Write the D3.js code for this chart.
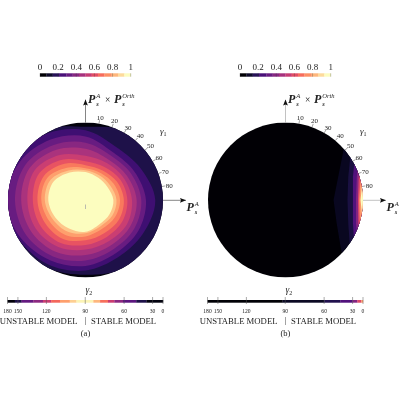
<!DOCTYPE html>
<html><head><meta charset="utf-8">
<script src="https://cdn.jsdelivr.net/npm/d3@7/dist/d3.min.js"></script>
<style>html,body{margin:0;padding:0}svg{display:block;will-change:transform}
text{font-family:"Liberation Serif",serif;fill:#222}</style></head><body>
<script>
// directions of the contour radii (degrees, counter-clockwise from +P_s^A)
const thetas = [0,30,60,90,120,150,180,210,240,270,300,330];
// panel (a): colour level and contour radius (fraction of disk radius) for each band
const levelsA = [.13,.21,.31,.39,.47,.55,.63,.72,.80,.88,1];
const radiiA = [
 [1.06,1.06,1.03,.945,1.05,1.08,1.08,1.08,1.01,.965,1.02,1.06],
 [.90,.82,.79,.90,.99,1.05,1.08,1.0,.96,.91,.85,.86],
 [.78,.73,.71,.82,.90,.98,1.03,.97,.90,.85,.79,.79],
 [.72,.68,.66,.74,.82,.90,.91,.89,.84,.78,.73,.73],
 [.66,.62,.60,.66,.75,.83,.83,.81,.77,.71,.67,.67],
 [.60,.57,.55,.57,.67,.76,.75,.74,.70,.64,.61,.62],
 [.54,.52,.49,.50,.60,.69,.68,.67,.64,.58,.55,.55],
 [.495,.47,.44,.45,.54,.62,.62,.60,.58,.52,.49,.50],
 [.445,.42,.40,.41,.48,.57,.57,.54,.52,.47,.43,.44],
 [.40,.37,.365,.385,.44,.52,.525,.49,.47,.43,.39,.40],
 [.36,.33,.33,.36,.41,.475,.48,.45,.425,.41,.36,.36]
];
// panel (b): band edges, horizontal position per height on the disk
const heightsB = [1.05,.6,.3,0,-.3,-.6,-1.05];
const levelsB = [.06,.12,.25,.38,.6,.78,1];
const edgesB = [
 [.80,.74,.68,.62,.66,.71,.80],
 [.90,.84,.81,.80,.81,.83,.90],
 [.95,.90,.87,.87,.87,.89,.95],
 [1.0,.95,.92,.91,.91,.94,1.0],
 [1.1,1.0,.945,.935,.94,1.0,1.1],
 [1.1,1.05,.97,.95,.96,1.05,1.1],
 [1.1,1.1,1.0,.968,1.0,1.1,1.1]
];
// gamma_1 ticks
const gamma1Ticks = [10,20,30,40,50,60,70,80];
// gamma_2 axis
const gamma2Ticks = [180,150,120,90,60,30,0];
const barEdgesA = [180,155,145,132,123,116,109,101.5,96.5,84,79,73,68,61,49,38,0];
const barValuesA = [.02,.13,.3,.4,.55,.68,.8,.9,.98,.85,.7,.55,.4,.28,.13,.03];
const barEdgesB = [180,92,60,45,30,22,12,0];
const barValuesB = [.01,.07,.14,.25,.38,.6,.8];
// colour bar
const cbarLevels = [0,.07,.14,.21,.29,.36,.43,.5,.57,.64,.71,.79,.86,.93];
const cbarTicks = [0,.2,.4,.6,.8,1];
const panelNames = ["(a)","(b)"];

const color = d3.interpolateMagma;
const svg = d3.select("body").append("svg").attr("width",400).attr("height",400);
const defs = svg.append("defs");
defs.append("marker").attr("id","ah").attr("viewBox","0 0 6 6").attr("refX",6).attr("refY",3)
  .attr("markerWidth",6).attr("markerHeight",6).attr("markerUnits","userSpaceOnUse").attr("orient","auto")
  .append("path").attr("d","M0,.6L6,3L0,5.4L1,3Z").attr("fill","#111");

const R = 77.5;

function mathP(g,x,y,sup,size){
  g.append("text").attr("x",x).attr("y",y).attr("font-size",size)
    .attr("font-style","italic").attr("font-weight","bold").text("P");
  const sx=x+size*.68;
  g.append("text").attr("x",sx).attr("y",y-4.8).attr("font-size",6.6).attr("font-style","italic").text(sup);
  g.append("text").attr("x",sx).attr("y",y+3.2).attr("font-size",6.6).attr("font-style","italic").attr("font-weight","bold").text("s");
}

function panel(idx,cx,arrowCol){
  const cy=200;
  const g=svg.append("g");
  const clipId="clip"+idx;
  defs.append("clipPath").attr("id",clipId).append("circle").attr("cx",cx).attr("cy",cy).attr("r",R);
  const disk=g.append("g").attr("clip-path",`url(#${clipId})`);
  const u=d3.scaleLinear().domain([-1,1]).range([cx-R,cx+R]);
  const v=d3.scaleLinear().domain([-1,1]).range([cy+R,cy-R]);
  disk.append("rect").attr("x",cx-R).attr("y",cy-R).attr("width",2*R).attr("height",2*R).attr("fill",color(idx?0.005:0.02));
  if(idx===0){
    const rs=d3.scaleLinear().domain([0,1]).range([0,R]);
    const line=d3.lineRadial().curve(d3.curveCatmullRomClosed.alpha(.5))
      .angle((d,i)=>(90-thetas[i])*Math.PI/180).radius(d=>rs(d));
    disk.selectAll("path").data(radiiA).join("path")
      .attr("transform",`translate(${cx},${cy})`).attr("d",line)
      .attr("fill",(d,i)=>color(levelsA[i]));
  } else {
    const line=d3.line().x(d=>u(d[0])).y(d=>v(d[1]));
    disk.selectAll("path").data(edgesB).join("path")
      .attr("d",row=>line(row.map((e,i)=>[e,heightsB[i]]).concat([[1.2,-1.05],[1.2,1.05]]))+"Z")
      .attr("fill",(d,i)=>color(levelsB[i]));
  }
  if(idx===0) g.append("line").attr("x1",cx).attr("x2",cx).attr("y1",204.5).attr("y2",209).attr("stroke","#aaa").attr("stroke-width",.8);
  g.append("line").attr("x1",cx).attr("x2",cx).attr("y1",cy-R).attr("y2",99.5).attr("stroke",arrowCol).attr("stroke-width",.6).attr("marker-end","url(#ah)");
  g.append("line").attr("x1",cx+R).attr("x2",cx+100.5).attr("y1",200.3).attr("y2",200.3).attr("stroke",arrowCol).attr("stroke-width",.6).attr("marker-end","url(#ah)");
  mathP(g,cx+2.5,103,"A",12);
  g.append("text").attr("x",cx+19.5).attr("y",103).attr("font-size",9.5).text("×");
  mathP(g,cx+28.5,103,"Orth",12);
  mathP(g,cx+101,211,"A",12);
  const rad=d=>d*Math.PI/180;
  g.selectAll("line.t").data(gamma1Ticks).join("line").attr("class","t")
    .attr("x1",d=>cx+R*Math.sin(rad(d))).attr("y1",d=>cy-R*Math.cos(rad(d)))
    .attr("x2",d=>cx+(R+3.5)*Math.sin(rad(d))).attr("y2",d=>cy-(R+3.5)*Math.cos(rad(d)))
    .attr("stroke","#444").attr("stroke-width",.5);
  g.selectAll("text.t").data(gamma1Ticks).join("text").attr("class","t")
    .attr("x",d=>cx+85*Math.sin(rad(d))).attr("y",d=>cy-84*Math.cos(rad(d))+2.4)
    .attr("text-anchor","middle").attr("font-size",7).text(d=>d);
  const gl=g.append("text").attr("x",cx+74.5).attr("y",134).attr("font-size",9).attr("font-style","italic").text("γ");
  gl.append("tspan").attr("font-size",6).attr("font-style","normal").attr("dy",1.5).text("1");
  const cb=d3.scaleLinear().domain([0,1]).range([cx-45.5,cx+45.2]);
  g.selectAll("rect.cb").data(cbarLevels).join("rect").attr("class","cb")
    .attr("x",d=>cb(d)).attr("y",73.3).attr("height",3.4)
    .attr("width",(d,i)=>cb(i+1<cbarLevels.length?cbarLevels[i+1]:1)-cb(d)+.2)
    .attr("fill",(d,i)=>color(i/(cbarLevels.length-1)));
  g.selectAll("line.cb").data(cbarTicks).join("line").attr("class","cb")
    .attr("x1",d=>cb(d)).attr("x2",d=>cb(d)).attr("y1",73.3).attr("y2",76.7).attr("stroke","#333").attr("stroke-width",.3);
  g.selectAll("text.cb").data(cbarTicks).join("text").attr("class","cb")
    .attr("x",d=>cb(d)).attr("y",70).attr("text-anchor","middle").attr("font-size",9).text(d=>d);
  const bx=d3.scaleLinear().domain([-1,1]).range([cx-78,cx+77.5]);
  const gx=d=>bx(Math.cos(rad(d)));
  const edges=idx?barEdgesB:barEdgesA, vals=idx?barValuesB:barValuesA;
  g.selectAll("rect.b").data(vals).join("rect").attr("class","b")
    .attr("x",(d,i)=>gx(edges[i])).attr("y",300).attr("height",2.7)
    .attr("width",(d,i)=>gx(edges[i+1])-gx(edges[i])+.2).attr("fill",d=>color(d));
  g.selectAll("line.b").data(gamma2Ticks).join("line").attr("class","b")
    .attr("x1",gx).attr("x2",gx).attr("y1",297).attr("y2",304).attr("stroke","#555").attr("stroke-width",.5);
  g.selectAll("text.b").data(gamma2Ticks).join("text").attr("class","b")
    .attr("x",gx).attr("y",312.5).attr("text-anchor","middle").attr("font-size",5.6).text(d=>d);
  const g2=g.append("text").attr("x",cx).attr("y",293).attr("font-size",9.5).attr("font-style","italic").text("γ");
  g2.append("tspan").attr("font-size",6).attr("font-style","normal").attr("dy",1.5).text("2");
  g.append("text").attr("x",cx-8).attr("y",323.5).attr("text-anchor","end").attr("font-size",8.7).text("UNSTABLE MODEL");
  g.append("text").attr("x",cx+5.5).attr("y",323.5).attr("font-size",8.7).text("STABLE MODEL");
  g.append("line").attr("x1",cx).attr("x2",cx).attr("y1",317).attr("y2",325).attr("stroke","#444").attr("stroke-width",.5);
  g.append("text").attr("x",cx).attr("y",336).attr("text-anchor","middle").attr("font-size",8.5).text(panelNames[idx]);
}
panel(0,85.5,"#333");
panel(1,285.5,"#999");
</script></body></html>
